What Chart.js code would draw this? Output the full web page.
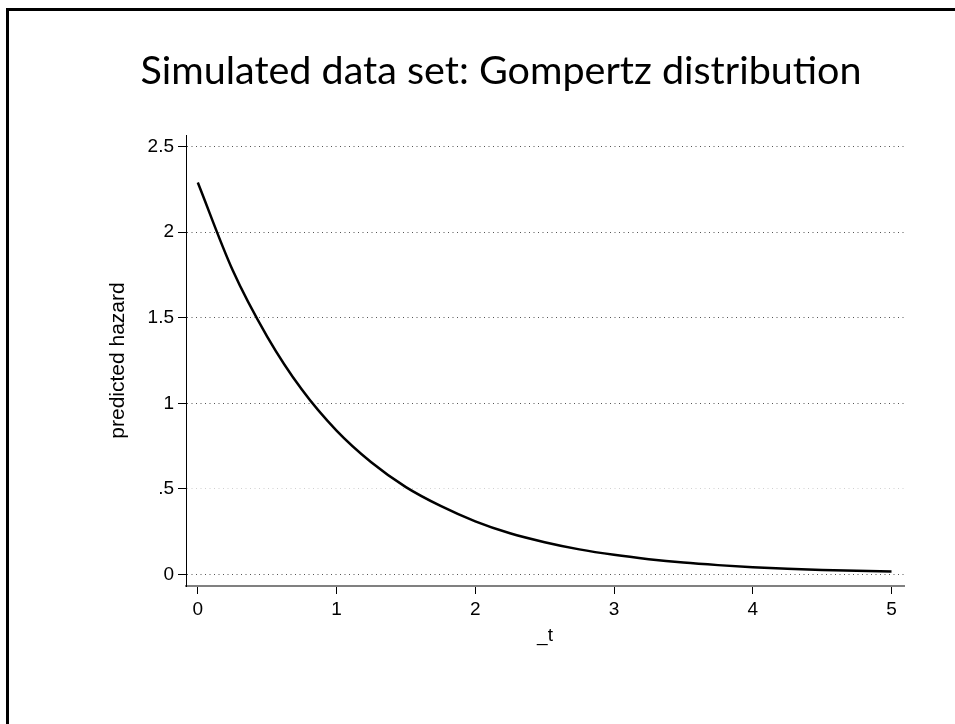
<!DOCTYPE html>
<html><head><meta charset="utf-8">
<script src="https://cdn.jsdelivr.net/npm/chart.js@4.4.0/dist/chart.umd.min.js"></script>
<style>
html,body{margin:0;padding:0;background:#fff;overflow:hidden;width:955px;height:724px;}
#frame{position:absolute;left:6px;top:8px;width:1100px;height:1000px;border:3px solid #000;box-sizing:border-box;}
#wrap{position:absolute;left:0;top:0;width:1002px;height:724px;}
</style></head><body>
<div id="frame"></div>
<div id="wrap"><canvas id="c"></canvas></div>
<script>
const titleText = 'Simulated data set: Gompertz distribution';
const xTitle = '_t';
const yTitle = 'predicted hazard';
const tValues = [0, 0.25, 0.5, 0.75, 1, 1.25, 1.5, 1.75, 2, 2.25, 2.5, 2.75, 3, 3.25, 3.5, 3.75, 4, 4.25, 4.5, 4.75, 5];
const hazardValues = [2.29, 1.78, 1.39, 1.08, 0.84, 0.655, 0.51, 0.40, 0.31, 0.24, 0.188, 0.146, 0.114, 0.089, 0.069, 0.054, 0.042, 0.033, 0.026, 0.021, 0.017];
const xTickValues = [0, 1, 2, 3, 4, 5];
const xTickLabels = ['0', '1', '2', '3', '4', '5'];
const yTickValues = [0, 0.5, 1, 1.5, 2, 2.5];
const yTickLabels = ['0', '.5', '1', '1.5', '2', '2.5'];

const points = tValues.map((t, i) => ({x: t, y: hazardValues[i]}));
const tickFont = {family: '"Liberation Sans", Arial, sans-serif', size: 19};
const yTitleFont = {family: '"Liberation Sans", Arial, sans-serif', size: 21};

new Chart(document.getElementById('c'), {
  type: 'line',
  data: {datasets: [{
    data: points,
    borderColor: '#000',
    borderWidth: 2.5,
    pointRadius: 0,
    fill: false,
    cubicInterpolationMode: 'monotone'
  }]},
  options: {
    responsive: true,
    maintainAspectRatio: false,
    animation: false,
    layout: {padding: {left: 98, right: 98, top: 0, bottom: 0}},
    plugins: {
      legend: {display: false},
      tooltip: {enabled: false},
      title: {
        display: true,
        text: titleText,
        color: '#000',
        font: {family: 'Lato, "Open Sans", sans-serif', size: 39.5, weight: 'normal', lineHeight: 1.2},
        padding: {top: 48, bottom: 39.6}
      }
    },
    scales: {
      x: {
        type: 'linear',
        min: -0.085,
        max: 5.09,
        afterBuildTicks: s => { s.ticks = xTickValues.map(v => ({value: v})); },
        afterFit: s => { s.height = 138; },
        border: {display: true, color: '#808080', width: 2},
        grid: {drawOnChartArea: false, drawTicks: true, tickLength: 8, tickColor: '#000', tickWidth: 1},
        ticks: {
          color: '#000', font: tickFont, padding: 4, maxRotation: 0, autoSkip: false,
          callback: v => xTickLabels[xTickValues.indexOf(v)]
        },
        title: {display: true, text: xTitle, color: '#000', font: tickFont, padding: {top: 0, bottom: 77}}
      },
      y: {
        type: 'linear',
        min: -0.068,
        max: 2.568,
        afterBuildTicks: s => { s.ticks = yTickValues.map(v => ({value: v})); },
        afterFit: s => { s.width = 88; },
        border: {display: true, color: '#000', width: 1, dash: [1, 3.5]},
        grid: {
          drawOnChartArea: true, drawTicks: true, tickLength: 8,
          color: ctx => (ctx.tick && ctx.tick.value === 0.5) ? '#d0d0d0' : '#555',
          lineWidth: 1,
          tickColor: '#000', tickWidth: 1, tickBorderDash: []
        },
        ticks: {
          color: '#000', font: tickFont, padding: 4, autoSkip: false,
          callback: v => yTickLabels[yTickValues.indexOf(v)]
        },
        title: {display: true, text: yTitle, color: '#000', font: yTitleFont, padding: {top: 8, bottom: 0}}
      }
    }
  }
});
</script>
</body></html>
